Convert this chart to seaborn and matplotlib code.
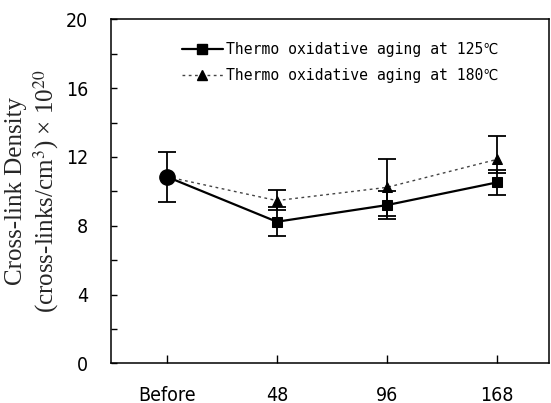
import matplotlib
matplotlib.use('Agg')
import matplotlib.pyplot as plt
import seaborn as sns
import pandas as pd
import numpy as np
from matplotlib.ticker import MultipleLocator
from matplotlib.lines import Line2D

# datos
etiquetas = ['Before', '48', '96', '168']
dens_125 = [10.85, 8.23, 9.20, 10.52]
err_125_bajo = [1.45, 0.83, 0.83, 0.73]
err_125_alto = [1.45, 0.83, 0.83, 0.73]
dens_180 = [10.85, 9.46, 10.23, 11.86]
err_180_bajo = [1.45, 0.55, 1.65, 0.78]
err_180_alto = [1.45, 0.62, 1.65, 1.37]
nombres = ['Thermo oxidative aging at 125\u2103', 'Thermo oxidative aging at 180\u2103']

sns.set_style('ticks')
plt.rcParams['font.family'] = ['DejaVu Sans']
plt.rcParams['font.stretch'] = 'condensed'
plt.rcParams['mathtext.fontset'] = 'stix'
plt.rcParams['text.color'] = 'black'
plt.rcParams['xtick.color'] = 'black'
plt.rcParams['ytick.color'] = 'black'

pos = np.arange(len(etiquetas))
df = pd.DataFrame({
    'pos': np.concatenate([pos, pos]),
    'dens': dens_125 + dens_180,
    'serie': [nombres[0]] * 4 + [nombres[1]] * 4,
})

fig = plt.figure(figsize=(5.51, 4.03), dpi=100)
ax = fig.add_axes([0.2009, 0.0985, 0.7955, 0.8536])

# barras de error
ax.errorbar(pos[1:], dens_180[1:], yerr=[err_180_bajo[1:], err_180_alto[1:]], fmt='none',
            ecolor='black', elinewidth=1.3, capsize=6.5, capthick=1.3, zorder=2)
ax.errorbar(pos, dens_125, yerr=[err_125_bajo, err_125_alto], fmt='none',
            ecolor='black', elinewidth=1.3, capsize=6.5, capthick=1.3, zorder=2)

sns.lineplot(data=df[df['serie'] == nombres[1]], x='pos', y='dens', ax=ax, color='#444444',
             linestyle=(0, (2, 2.5)), linewidth=1.0, marker='^', markersize=7.5,
             markeredgecolor='black', markerfacecolor='black', markevery=[1, 2, 3], zorder=3)
sns.lineplot(data=df[df['serie'] == nombres[0]], x='pos', y='dens', ax=ax, color='black',
             linewidth=1.6, marker='s', markersize=7.5, markeredgecolor='black',
             markevery=[1, 2, 3], zorder=4)
# punto inicial comun
ax.plot(pos[0], dens_125[0], 'o', color='black', markersize=11, zorder=5)

ax.set_xlim(-0.508, 3.47)
ax.set_ylim(0, 20)
ax.set_xticks(pos)
ax.set_xticklabels(etiquetas)
ax.yaxis.set_major_locator(MultipleLocator(4))
ax.yaxis.set_minor_locator(MultipleLocator(2))
ax.tick_params(axis='y', which='both', direction='in', length=4, width=1, pad=16, labelsize=14)
ax.tick_params(axis='x', direction='in', length=6, width=1, pad=16, labelsize=14)
ax.tick_params(top=False, right=False)
for lado in ax.spines.values():
    lado.set_linewidth(1.1)
    lado.set_color('black')

ax.set_xlabel('')
ax.set_ylabel('Cross-link Density\n(cross-links/cm$^3$) \u00d7 10$^{20}$',
              fontsize=18, family='Liberation Serif', fontstretch='normal', linespacing=1.2)
ax.yaxis.set_label_coords(-0.113, 0.5)

manejadores = [
    Line2D([], [], color='black', linewidth=1.6, marker='s', markersize=7.5),
    Line2D([], [], color='#444444', linestyle=(0, (2, 2.5)), linewidth=1.0, marker='^',
           markersize=7.5, markerfacecolor='black', markeredgecolor='black'),
]
ax.legend(manejadores, nombres, loc='upper left', bbox_to_anchor=(0.145, 0.955), frameon=False,
          handlelength=2.8, handletextpad=0.2, labelspacing=0.75, borderpad=0,
          prop={'family': ['DejaVu Sans Mono', 'DejaVu Sans'], 'size': 10.6})

plt.savefig('out.png', dpi=100)
plt.close()
